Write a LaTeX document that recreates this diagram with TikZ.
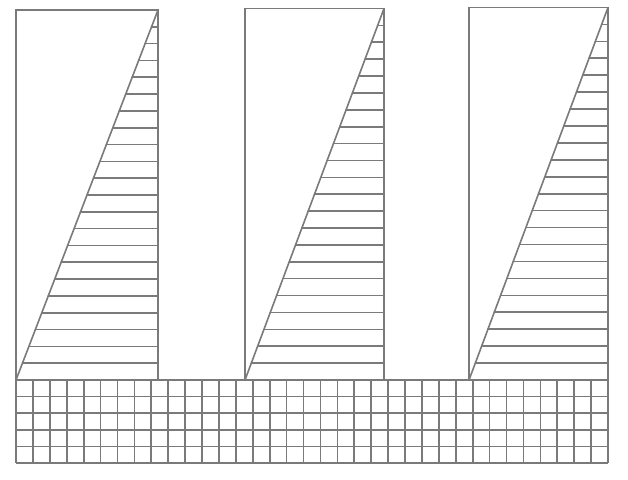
\documentclass[tikz,border=0pt]{standalone}
\begin{document}
\begin{tikzpicture}[x=1pt,y=-1pt,
  ln/.style={line width=1.6pt, draw=black!52, line cap=round},
  gridln/.style={line width=1.7pt, draw=black!52}]
\useasboundingbox (0,0) rectangle (628,479);
\fill[white] (0,0) rectangle (628,479);
% base grid
\foreach \i in {0,...,35} {
  \pgfmathsetmacro\gx{16+\i*(592/35)}
  \draw[gridln] (\gx,380) -- (\gx,463);
}
\foreach \j in {0,...,5} {
  \pgfmathsetmacro\gy{380+\j*(83/5)}
  \draw[gridln] (16,\gy) -- (608,\gy);
}
% three hatched panels
\foreach \l/\r/\t in {16/158/10, 245/384/8.5, 469/608/7.5} {
  \draw[ln] (\l,380) rectangle (\r,\t);
  \draw[ln] (\r,\t) -- (\l,380);
  \foreach \k in {1,...,21} {
    \pgfmathsetmacro\yy{\t+\k*(380-\t)/22}
    \pgfmathsetmacro\xx{\r-(\r-\l)*\k/22}
    \draw[ln] (\xx,\yy) -- (\r,\yy);
  }
}
\end{tikzpicture}
\end{document}
